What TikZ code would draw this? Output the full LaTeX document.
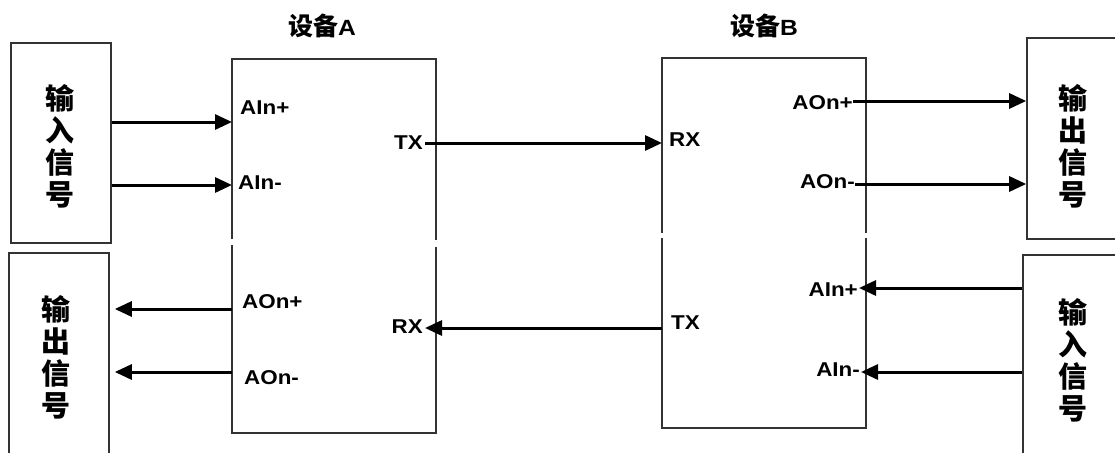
\documentclass[tikz,border=0pt]{standalone}
\usepackage{fontspec}
\setmainfont{Liberation Sans}
\newfontfamily\cjk{Noto Sans CJK SC}
\newfontfamily\lab{Liberation Sans}[FakeStretch=1.12]
\usetikzlibrary{arrows.meta}
\begin{document}
\begin{tikzpicture}[x=1pt,y=-1pt,
  box/.style={draw=black!80,line width=1.6pt},
  sigbox/.style={box,minimum width=100pt,inner sep=0},
  sig/.style={font=\cjk\bfseries\fontsize{29}{32}\selectfont,align=center,inner sep=0},
  lbl/.style={font=\lab\bfseries\fontsize{20}{20}\selectfont,inner sep=0},
  ttl/.style={inner sep=0},
  arr/.style={line width=3pt,-{Triangle[length=17pt,width=15pt]}}
]
\useasboundingbox (0,0) rectangle (1115,452);
% signal boxes
\node[sigbox,minimum height=200pt] (inL) at (61,143) {};
\node[sig] (inLt) at (60,146) {输\\入\\信\\号};
\node[sigbox,minimum height=206pt] (outL) at (59,356) {};
\node[sig] (outLt) at (56,357) {输\\出\\信\\号};
\node[sigbox,minimum height=201pt] (outR) at (1077,138.5) {};
\node[sig] (outRt) at (1073,146) {输\\出\\信\\号};
\node[sigbox,minimum height=206pt] (inR) at (1073,358) {};
\node[sig] (inRt) at (1073,360) {输\\入\\信\\号};
% device A
\draw[box] (232,239) -- (232,59) -- (436,59) -- (436,240);
\draw[box] (232,245) -- (232,433) -- (436,433) -- (436,247);
\node[ttl] (tA) at (322,26) {{\cjk\bfseries\fontsize{25}{25}\selectfont 设备}{\lab\bfseries\fontsize{22}{22}\selectfont A}};
% device B
\draw[box] (662,233) -- (662,58) -- (866,58) -- (866,233);
\draw[box] (662,238) -- (662,428) -- (866,428) -- (866,238);
\node[ttl] (tB) at (764,26) {{\cjk\bfseries\fontsize{25}{25}\selectfont 设备}{\lab\bfseries\fontsize{22}{22}\selectfont B}};
% labels A
\node[lbl,anchor=west] (AaIp) at (240,108) {AIn+};
\node[lbl,anchor=west] (AaIm) at (238,183) {AIn-};
\node[lbl,anchor=east] (Atx) at (423,143) {TX};
\node[lbl,anchor=west] (AaOp) at (242,302) {AOn+};
\node[lbl,anchor=east] (Arx) at (423,327) {RX};
\node[lbl,anchor=west] (AaOm) at (244,378) {AOn-};
% labels B
\node[lbl,anchor=west] (Brx) at (669,140) {RX};
\node[lbl,anchor=west] (Btx) at (671,323) {TX};
\node[lbl,anchor=east] (BaOp) at (853,103) {AOn+};
\node[lbl,anchor=east] (BaOm) at (855,182) {AOn-};
\node[lbl,anchor=east] (BaIp) at (858,290) {AIn+};
\node[lbl,anchor=east] (BaIm) at (860,370) {AIn-};
% port coordinates
\coordinate (Ain1) at (232,122);
\coordinate (Ain2) at (232,185);
\coordinate (Aout1) at (232,309);
\coordinate (Aout2) at (232,372);
\coordinate (Brxp) at (662,143);
\coordinate (Btxp) at (662,328);
\coordinate (Atxp) at (425,143);
\coordinate (Arxp) at (425,328);
\coordinate (Bout1) at (853,101);
\coordinate (Bout2) at (855,184);
\coordinate (Bin1) at (859,288);
\coordinate (Bin2) at (861,372);
% connectors
\draw[arr] (inL.east |- Ain1) -- (Ain1);
\draw[arr] (inL.east |- Ain2) -- (Ain2);
\draw[arr] (Aout1) -- ([xshift=5pt]outL.east |- Aout1);
\draw[arr] (Aout2) -- ([xshift=5pt]outL.east |- Aout2);
\draw[arr] (Atxp) -- (Brxp);
\draw[arr] (Btxp) -- (Arxp);
\draw[arr] (Bout1) -- (outR.west |- Bout1);
\draw[arr] (Bout2) -- (outR.west |- Bout2);
\draw[arr] (inR.west |- Bin1) -- (Bin1);
\draw[arr] (inR.west |- Bin2) -- (Bin2);
\end{tikzpicture}
\end{document}
